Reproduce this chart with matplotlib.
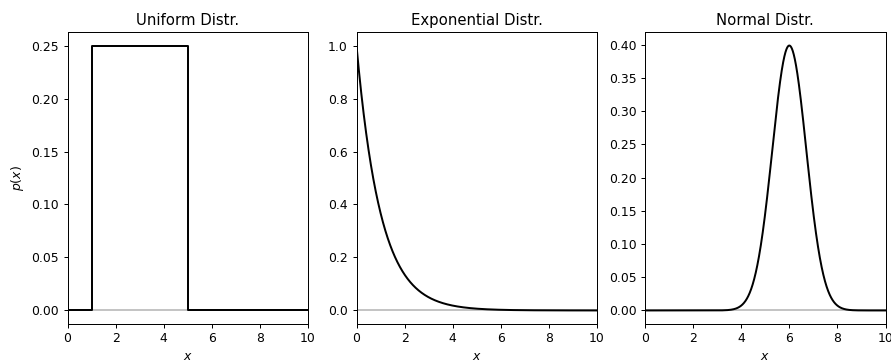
import numpy as np
import matplotlib.pyplot as plt

# distribution parameters
titles = ["Uniform Distr.", "Exponential Distr.", "Normal Distr."]
uniform_ab = [1.0, 5.0]        # support of the uniform pdf
exp_rate = 1.0                 # lambda of the exponential pdf
normal_mu = 6.0                # centre of the bell
normal_peak = 0.399            # peak height
normal_width = 0.707           # std of the bell as drawn
x_range = [0, 10]

x = np.linspace(x_range[0], x_range[1], 2001)

a, b = uniform_ab
p_exp = exp_rate * np.exp(-exp_rate * x)
p_norm = normal_peak * np.exp(-0.5 * ((x - normal_mu) / normal_width) ** 2)

# render at a slightly lower dpi so default font/line sizes scale like the reference
DPI = 89.1
W, H = 891, 362
fig = plt.figure(figsize=(W / DPI, H / DPI), dpi=DPI)
lefts = [67.5, 356.5, 645]
width = 240.5
top, bottom = 32.3, 323.7
axes = [fig.add_axes([l / W, (H - bottom) / H, width / W, (bottom - top) / H]) for l in lefts]

# uniform drawn as steps so the edges are vertical
ux = [x_range[0], a, a, b, b, x_range[1]]
uy = [0, 0, 1.0 / (b - a), 1.0 / (b - a), 0, 0]
curves = [(ux, uy), (x, p_exp), (x, p_norm)]

for ax, title, (cx, cy) in zip(axes, titles, curves):
    ax.axhline(0, color="silver", lw=1.5, zorder=1)
    ax.plot(cx, cy, color="black", lw=1.6, zorder=2)
    ax.set_xlim(x_range)
    ax.set_title(title)
    ax.set_xlabel("$x$")

axes[0].set_ylabel("$p(x)$")

fig.savefig("out.png", dpi=DPI)
